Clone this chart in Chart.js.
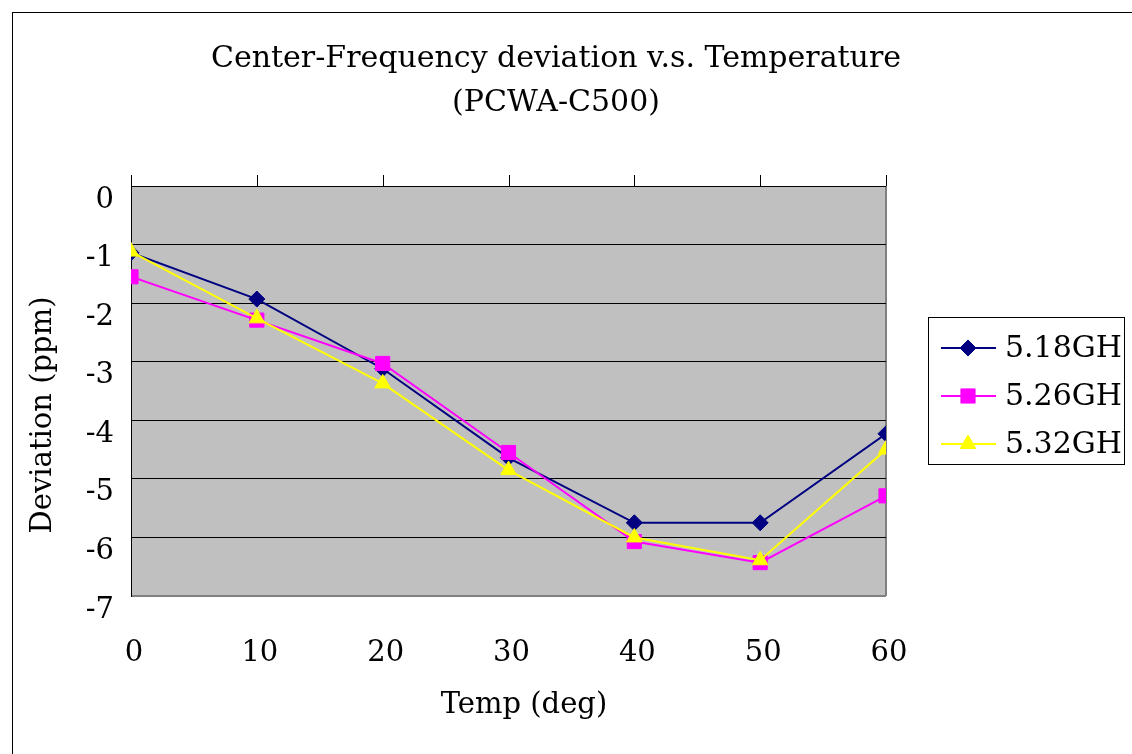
<!DOCTYPE html>
<html>
<head>
<meta charset="utf-8">
<script src="https://cdn.jsdelivr.net/npm/chart.js@4/dist/chart.umd.min.js"></script>
<style>
  html, body { margin: 0; padding: 0; background: #fff; }
  canvas { display: block; }
</style>
</head>
<body>
<canvas id="c" width="1132" height="754"></canvas>
<script>
const temps = [0, 10, 20, 30, 40, 50, 60];
const s518 = [-1.14, -1.93, -3.12, -4.64, -5.75, -5.75, -4.23];
const s526 = [-1.55, -2.29, -3.03, -4.55, -6.07, -6.43, -5.29];
const s532 = [-1.12, -2.26, -3.37, -4.85, -6.00, -6.39, -4.50];
const seriesNames = ['5.18GH', '5.26GH', '5.32GH'];
const titleLines = ['Center-Frequency deviation v.s. Temperature', '(PCWA-C500)'];
const xTitle = 'Temp (deg)';
const yTitle = 'Deviation (ppm)';

const FONT = 'DejaVu Serif';
const toPts = arr => temps.map((t, i) => ({x: t, y: arr[i]}));

const decor = {
  id: 'decor',
  beforeDraw(chart) {
    const ctx = chart.ctx, a = chart.chartArea;
    ctx.save();
    ctx.fillStyle = '#fff';
    ctx.fillRect(0, 0, chart.width, chart.height);
    ctx.strokeStyle = '#000';
    ctx.lineWidth = 1;
    ctx.strokeRect(12.5, 12.5, 1200, 800);
    ctx.fillStyle = '#C0C0C0';
    ctx.fillRect(a.left, a.top, a.right - a.left, a.bottom - a.top);
    ctx.restore();
  },
  afterDraw(chart) {
    const ctx = chart.ctx, a = chart.chartArea;
    const xs = chart.scales.x;
    ctx.save();
    ctx.strokeStyle = '#000';
    ctx.lineWidth = 1;
    temps.forEach(t => {
      const px = Math.round(xs.getPixelForValue(t)) + 0.5;
      ctx.beginPath();
      ctx.moveTo(px, a.top - 11);
      ctx.lineTo(px, a.top);
      ctx.stroke();
    });
    ctx.fillStyle = '#000';
    ctx.textAlign = 'center';
    ctx.textBaseline = 'alphabetic';
    ctx.font = '30px "' + FONT + '"';
    ctx.fillText(titleLines[0], 556, 67);
    ctx.fillText(titleLines[1], 556, 111);
    ctx.font = '29px "' + FONT + '"';
    ctx.fillText(xTitle, 524, 713);
    ctx.save();
    ctx.translate(51, 415);
    ctx.rotate(-Math.PI / 2);
    ctx.fillText(yTitle, 0, 0);
    ctx.restore();
    // legend
    ctx.strokeStyle = '#000';
    ctx.lineWidth = 1;
    ctx.strokeRect(928.5, 317.5, 196, 147);
    chart.data.datasets.forEach((ds, i) => {
      const y = 348 + 48 * i;
      ctx.strokeStyle = ds.borderColor;
      ctx.lineWidth = 2;
      ctx.beginPath();
      ctx.moveTo(941, y);
      ctx.lineTo(996, y);
      ctx.stroke();
      ctx.fillStyle = ds.pointBackgroundColor;
      ctx.strokeStyle = ds.pointBorderColor;
      ctx.lineWidth = 1;
      Chart.helpers.drawPoint(ctx, {pointStyle: ds.pointStyle, radius: ds.pointRadius, rotation: 0, borderWidth: 1}, 968, y);
      ctx.fillStyle = '#000';
      ctx.textAlign = 'left';
      ctx.textBaseline = 'middle';
      ctx.font = '30px "' + FONT + '"';
      ctx.fillText(ds.label, 1005, y + 1);
    });
    ctx.restore();
  }
};

Chart.defaults.font.family = FONT;
Chart.defaults.color = '#000';

new Chart(document.getElementById('c'), {
  type: 'line',
  data: {
    datasets: [
      {label: seriesNames[0], data: toPts(s518), borderColor: '#000080', backgroundColor: '#000080',
       pointBackgroundColor: '#000080', pointBorderColor: '#000080', pointStyle: 'rectRot', pointRadius: 8,
       borderWidth: 2, order: 3},
      {label: seriesNames[1], data: toPts(s526), borderColor: '#FF00FF', backgroundColor: '#FF00FF',
       pointBackgroundColor: '#FF00FF', pointBorderColor: '#FF00FF', pointStyle: 'rect', pointRadius: 10,
       borderWidth: 2, order: 2},
      {label: seriesNames[2], data: toPts(s532), borderColor: '#FFFF00', backgroundColor: '#FFFF00',
       pointBackgroundColor: '#FFFF00', pointBorderColor: '#FFFF00', pointStyle: 'triangle', pointRadius: 9,
       borderWidth: 2, order: 1}
    ]
  },
  options: {
    responsive: false,
    animation: false,
    layout: {padding: {top: 186, right: 246, left: 0, bottom: 0}},
    plugins: {legend: {display: false}, title: {display: false}, tooltip: {enabled: false}},
    elements: {line: {tension: 0}, point: {pointBorderWidth: 1}},
    scales: {
      x: {
        type: 'linear', min: 0, max: 60,
        ticks: {stepSize: 10, font: {size: 29}, padding: 40, color: '#000', maxRotation: 0, labelOffset: 3},
        grid: {drawTicks: false, drawOnChartArea: true,
               color: c => (c.tick && c.tick.value === 60) ? '#808080' : 'rgba(0,0,0,0)', lineWidth: 2},
        border: {display: false},
        afterFit: s => { s.height = 158; }
      },
      y: {
        min: -7, max: 0,
        ticks: {stepSize: 1, font: {size: 29}, padding: 17, color: '#000', labelOffset: 14},
        grid: {drawTicks: false,
               color: c => (c.tick && c.tick.value === -7) ? '#808080' : '#000000',
               lineWidth: c => (c.tick && c.tick.value === -7) ? 2 : 1},
        border: {display: true, color: '#000', width: 1},
        afterFit: s => { s.width = 131; }
      }
    }
  },
  plugins: [decor]
});
</script>
</body>
</html>
